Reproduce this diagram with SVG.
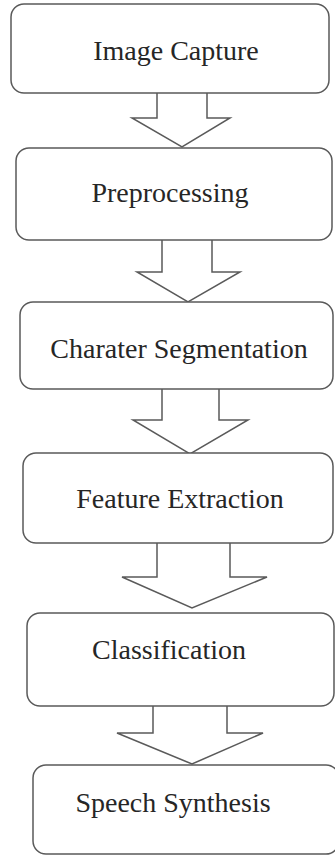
<svg xmlns="http://www.w3.org/2000/svg" width="335" height="855" viewBox="0 0 335 855">
  <style>
    .box { fill: #ffffff; stroke: #5a5a5a; stroke-width: 1.5; }
    .arrow { fill: #ffffff; stroke: #5a5a5a; stroke-width: 1.5; stroke-linejoin: miter; }
    .label { font-family: 'Liberation Serif', 'DejaVu Serif', serif; font-size: 28px; fill: #262626; text-anchor: middle; }
  </style>
  <rect width="335" height="855" fill="#ffffff"/>

  <!-- block arrows between the stages -->
  <g id="connectors">
    <path class="arrow" d="M157,93 L157,118 L132,118 L182,147 L230,118 L207,118 L207,93"/>
    <path class="arrow" d="M162,240 L162,272 L137,272 L188,302 L240,272 L212,272 L212,240"/>
    <path class="arrow" d="M162,389 L162,420 L133,420 L190,454 L248,420 L219,420 L219,389"/>
    <path class="arrow" d="M157,543 L157,577 L122,577 L192,608 L267,577 L230,577 L230,543"/>
    <path class="arrow" d="M153,706 L153,733 L117,733 L192,764 L263,733 L227,733 L227,706"/>
  </g>

  <g id="image-capture">
    <rect class="box" x="11" y="4" width="318" height="89" rx="13"/>
    <text class="label" x="176" y="60">Image Capture</text>
  </g>

  <g id="preprocessing">
    <rect class="box" x="16" y="148" width="316" height="92" rx="13"/>
    <text class="label" x="170" y="202">Preprocessing</text>
  </g>

  <g id="character-segmentation">
    <rect class="box" x="20" y="302" width="313" height="87" rx="13"/>
    <text class="label" x="179" y="358">Charater Segmentation</text>
  </g>

  <g id="feature-extraction">
    <rect class="box" x="23" y="453" width="310" height="90" rx="13"/>
    <text class="label" x="180" y="508">Feature Extraction</text>
  </g>

  <g id="classification">
    <rect class="box" x="27" y="613" width="307" height="93" rx="13"/>
    <text class="label" x="169" y="659">Classification</text>
  </g>

  <g id="speech-synthesis">
    <rect class="box" x="33" y="765" width="306" height="89" rx="13"/>
    <text class="label" x="173" y="812">Speech Synthesis</text>
  </g>
</svg>
